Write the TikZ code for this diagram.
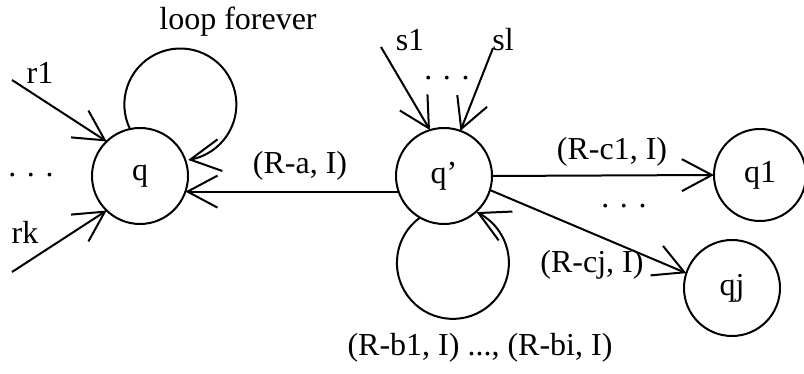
\documentclass[tikz,border=0pt]{standalone}
\usepackage{fontspec}
\setmainfont{Liberation Serif}
\usetikzlibrary{arrows.meta,bending}

\begin{document}
\begin{tikzpicture}[x=1pt, y=1pt, line width=2pt,
  font=\fontsize{32}{36}\selectfont,
  state/.style={draw, circle, minimum size=96pt, inner sep=0pt, outer sep=0pt},
  arr/.style={-{Straight Barb[length=30pt, width=32pt, flex]}}]
\useasboundingbox (0,0) rectangle (804,374);
% states
\node[state] (q) at (140,198) {q};
\node[state] (qp) at (444,198) {q’};
\node[state, minimum size=92pt] (q1) at (760,199) {q1};
\node[state] (qj) at (732,86) {qj};
% free ends of the incoming arrows
\coordinate (r1) at (12,294);
\coordinate (rk) at (12,102);
\coordinate (s1) at (381,327);
\coordinate (sl) at (493,326);
% into q
\draw[arr] (r1) -- (q.134);
\draw[arr] (rk) -- (q.226);
\draw[arr] (q.102) arc[start angle=206, end angle=-82, radius=56];
\draw[arr] (qp.199.5) -- (q.-19.5);
% into q'
\draw[arr] (s1) -- (qp.107);
\draw[arr] (sl) -- (qp.70.5);
\draw[arr] (qp.240) arc[start angle=126, end angle=425, radius=56];
% out of q'
\draw[arr] (qp.0) -- (q1.180);
\draw[arr] (qp.-17) -- (qj.162);
% labels
\node (lloop) at (238,352) {loop forever};
\node (lr1) at (40,301) {r1};
\node (lrk) at (25,142) {rk};
\node[anchor=base] (ldotsr) at (31,197) {. . .};
\node (ls1) at (410,334) {s1};
\node (lsl) at (503,334) {sl};
\node[anchor=base] (ldotss) at (447,294) {. . .};
\node (lra) at (300,208) {(R-a, I)};
\node (lrc1) at (612,222) {(R-c1, I)};
\node[anchor=base] (ldotsc) at (624,166) {. . .};
\node (lrcj) at (592,109) {(R-cj, I)};
\node (lrb) at (480,26) {(R-b1, I) ..., (R-bi, I)};
\end{tikzpicture}
\end{document}
